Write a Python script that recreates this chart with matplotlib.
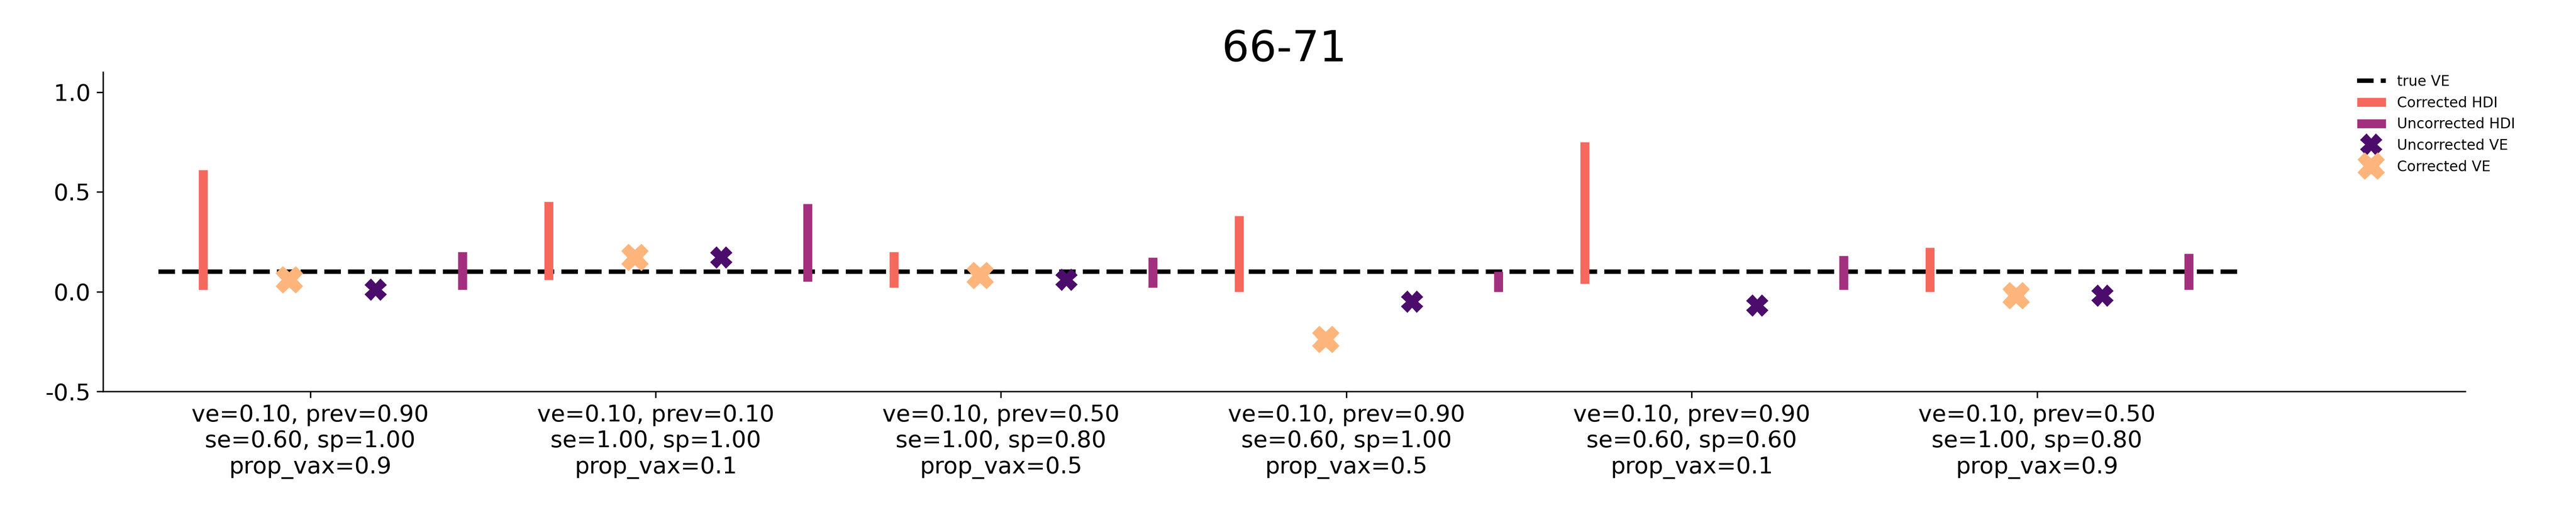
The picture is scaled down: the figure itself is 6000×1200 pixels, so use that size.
import matplotlib
matplotlib.use("Agg")
import matplotlib.pyplot as plt
import numpy as np

labels = ["ve=0.10, prev=0.90\nse=0.60, sp=1.00\nprop_vax=0.9",
          "ve=0.10, prev=0.10\nse=1.00, sp=1.00\nprop_vax=0.1",
          "ve=0.10, prev=0.50\nse=1.00, sp=0.80\nprop_vax=0.5",
          "ve=0.10, prev=0.90\nse=0.60, sp=1.00\nprop_vax=0.5",
          "ve=0.10, prev=0.90\nse=0.60, sp=0.60\nprop_vax=0.1",
          "ve=0.10, prev=0.50\nse=1.00, sp=0.80\nprop_vax=0.9"]
true_ve = 0.10
corr_hdi_lo = [0.01, 0.06, 0.02, 0.00, 0.04, 0.00]
corr_hdi_hi = [0.61, 0.45, 0.20, 0.38, 0.75, 0.22]
corr_ve = [0.06, 0.17, 0.08, -0.24, np.nan, -0.02]
unc_ve = [0.01, 0.17, 0.06, -0.05, -0.07, -0.02]
unc_hdi_lo = [0.01, 0.05, 0.02, 0.00, 0.01, 0.01]
unc_hdi_hi = [0.20, 0.44, 0.17, 0.10, 0.18, 0.19]

c_chdi = "#f4695c"
c_uhdi = "#a3307e"
c_uve = "#4b0c6b"
c_cve = "#feb57c"

fig, ax = plt.subplots(figsize=(20, 4), dpi=300)
x = np.arange(len(labels))
ax.plot([-0.44, 5.58], [true_ve, true_ve], ls="--", color="black", lw=2.5, label="true VE", zorder=1)
ax.vlines(x - 0.31, corr_hdi_lo, corr_hdi_hi, color=c_chdi, lw=5, label="Corrected HDI", zorder=2)
ax.vlines(x + 0.44, unc_hdi_lo, unc_hdi_hi, color=c_uhdi, lw=5, label="Uncorrected HDI", zorder=2)
ax.plot(x + 0.19, unc_ve, ls="none", marker="X", ms=11, color=c_uve, label="Uncorrected VE", zorder=3)
ax.plot(x - 0.06, corr_ve, ls="none", marker="X", ms=14, color=c_cve, label="Corrected VE", zorder=3)

ax.set_xlim(-0.6, 6.24)
ax.set_ylim(-0.5, 1.1)
ax.set_yticks([-0.5, 0.0, 0.5, 1.0])
ax.set_yticklabels(["-0.5", "0.0", "0.5", "1.0"], fontsize=13)
ax.set_xticks(x)
ax.set_xticklabels(labels, fontsize=13)
ax.set_title("66-71", fontsize=24)
for s in ["top", "right"]:
    ax.spines[s].set_visible(False)
ax.legend(loc="upper left", bbox_to_anchor=(0.91, 0.88), bbox_transform=fig.transFigure,
          frameon=False, fontsize=8)
fig.subplots_adjust(left=0.04, right=0.957, top=0.86, bottom=0.24)
fig.savefig("out.png")
